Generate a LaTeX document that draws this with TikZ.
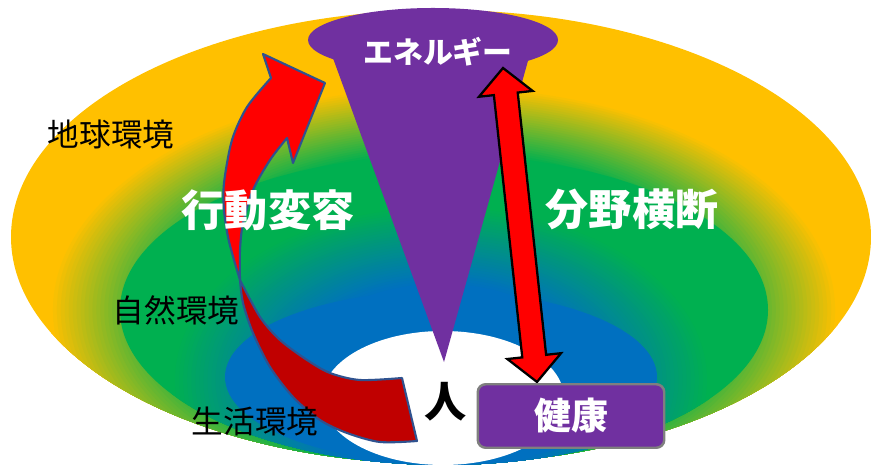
\documentclass[tikz,border=0pt]{standalone}
\usepackage{fontspec}
\setmainfont{Noto Sans CJK JP}
\usepackage{tikz}
\usepackage{xcolor}

\definecolor{earthyellow}{HTML}{FFC000}
\definecolor{naturegreen}{HTML}{00B050}
\definecolor{lifeblue}{HTML}{0070C0}
\definecolor{energypurple}{HTML}{7030A0}
\definecolor{arrowred}{HTML}{FF0000}
\definecolor{arrowdark}{HTML}{C00000}
\definecolor{arrowedge}{HTML}{2F528F}
\definecolor{boxedge}{HTML}{7F7F7F}

\begin{document}
\begin{tikzpicture}[x=0.02cm, y=-0.02cm,
     envlabel/.style={inner sep=0pt, font=\fontsize{18}{18}\selectfont},
     keylabel/.style={inner sep=0pt, text=white, font=\bfseries\fontsize{24.5}{24.5}\selectfont},
     healthbox/.style={draw=boxedge, line width=1.4pt, fill=energypurple, rounded corners=4.5pt,
         minimum width=3.73cm, minimum height=1.27cm, text=white, font=\bfseries\fontsize{21}{21}\selectfont}]
     \useasboundingbox (0,0) rectangle (871,465);
     \fill [earthyellow] (441,237) ellipse [x radius=430, y radius=227];
     \begin{scope}
          \clip (441,237) ellipse [x radius=430, y radius=227];
          \foreach \k in {0,...,30} {
               \pgfmathsetmacro\s{1-0.3*\k/30}
               \pgfmathsetmacro\m{100*\k/30}
               \fill [naturegreen!\m!earthyellow] (444,310) ellipse [x radius=395*\s, y radius=225*\s];
          }
     \end{scope}
     \fill [naturegreen] (444,310) ellipse [x radius=324, y radius=155];
     \begin{scope}
          \clip (444,310) ellipse [x radius=324, y radius=155];
          \foreach \k in {0,...,30} {
               \pgfmathsetmacro\s{1-0.45*\k/30}
               \pgfmathsetmacro\m{100*\k/30}
               \fill [lifeblue!\m!naturegreen] (441,380) ellipse [x radius=270*\s, y radius=175*\s];
          }
     \end{scope}
     \fill [lifeblue] (441,377) ellipse [x radius=216, y radius=86];
     \fill [white] (443,398) ellipse [x radius=121, y radius=67];
     \fill [energypurple] (433,40) ellipse [x radius=125, y radius=32];
     \fill [energypurple] (330,50) -- (531,50) -- (444,362) -- cycle;
     \filldraw [fill=arrowred, draw=arrowedge, line width=1.2pt, line join=round]
          plot [smooth] coordinates {(240,280) (234,260) (228,237) (224,210) (224,183) (232,140) (247,107) (271,78)}
          -- (263,54) -- (325,83) -- (293,163) -- (287,138)
          -- plot [smooth] coordinates {(287,138) (270,160) (253,190) (243,223) (240,250) (240,280)} -- cycle;
     \filldraw [fill=arrowdark, draw=arrowedge, line width=1.2pt, line join=round]
          plot [smooth] coordinates {(240,280) (243,303) (253,333) (270,367) (293,397) (320,420) (347,433) (380,442) (417,441)}
          -- (402,378)
          -- plot [smooth] coordinates {(402,378) (360,380) (330,373) (307,360) (280,340) (260,317) (240,280)} -- cycle;
     \coordinate (energyTip) at (503,68);
     \coordinate (healthTip) at (537,382);
     \begin{scope}[shift={(energyTip)}, rotate=-83.82]
          \draw [fill=arrowred, line width=1.3pt] (0,0) -- (26,27) -- (26,12) -- (289.8,12) -- (289.8,27) -- (315.8,0)
               -- (289.8,-27) -- (289.8,-12) -- (26,-12) -- (26,-27) -- cycle;
     \end{scope}
     \node [healthbox] (health) at (571,416) {健康};
     \node [inner sep=0pt, text=white, font=\bfseries\fontsize{17}{17}\selectfont] (energy) at (438,52) {エネルギー};
     \node [inner sep=0pt, font=\bfseries\fontsize{24}{24}\selectfont] (person) at (446,402) {人};
     \node [envlabel] (earth) at (111,134) {地球環境};
     \node [envlabel] (nature) at (176,310) {自然環境};
     \node [envlabel] (life) at (255,421) {生活環境};
     \node [keylabel] (change) at (268,210) {行動変容};
     \node [keylabel] (cross) at (632,209) {分野横断};
\end{tikzpicture}
\end{document}
